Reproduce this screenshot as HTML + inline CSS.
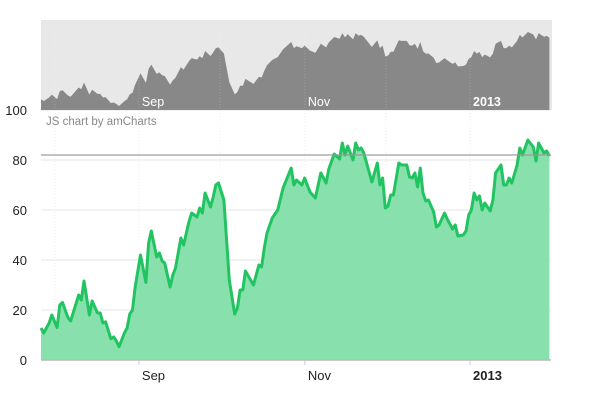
<!DOCTYPE html>
<html><head><meta charset="utf-8"><style>
html,body{margin:0;padding:0;background:#fff;width:592px;height:400px;overflow:hidden}
svg{display:block;font-family:"Liberation Sans","DejaVu Sans",sans-serif}
</style></head><body>
<svg id="chart" width="592" height="400" viewBox="0 0 592 400" xmlns="http://www.w3.org/2000/svg">
<rect x="41" y="20" width="511" height="90" fill="#e8e8e8"/>
<g id="grid"></g>
<g id="scroll"></g>
<g id="series"></g>
<g id="axes"></g>
<text x="46" y="125" font-size="11.5" fill="#888">JS chart by amCharts</text>
</svg>
<script>
const days=[0,1,3,4,6,7,8,10,11,12,14,15,16,18,19,21,22,23,24,26,27,28,29,31,32,33,34,35,37,39,40,41,43,44,45,46,48,49,50,52,53,55,56,58,59,60,61,63,64,65,66,68,69,70,72,73,74,75,76,79,81,82,83,84,86,88,90,93,94,95,97,98,100,102,104,106,107,109,111,112,113,114,116,117,118,119,120,123,125,126,127,128,129,130,131,133,134,136,137,138,139,140,141,142,143,144,146,147,148,150,151,153,154,155,157,158,159,160,161,162,163,164,165,167,168,169,171,172,173,174,175,177,178,179,181,183,184,185,187,188,189];
const values=[12.8,10.8,14.8,18,13,22,23,17,15.6,19,26,24,31.6,18,23.6,18.8,18.8,14.8,15.3,8.5,9.2,7.7,5.3,10.8,12.8,18.4,20,29,42,31,46.8,51.6,41.2,42.8,39.6,38.8,29.2,34,36.8,48.8,46,55.2,58.8,57.2,60.8,58.8,66.8,61.2,65.2,70,70.8,64,48,32,18.4,20.8,28,28,35.6,30,38,37.2,44.8,50.8,56.8,60,68.8,76.8,70,72,70,72.8,67.2,64.8,74.8,70.8,76.4,82.4,80.4,86.8,82,85.6,80,86.8,84,84.8,82.8,71.2,78.8,70,72.8,60.8,61.6,66,66,78.8,78,78,73.2,72.8,74.8,69.2,76.8,66.8,63.6,64,59.2,53.2,54,58.8,56.4,52.4,54,49.6,50,51.6,58,60,66.8,64,65.6,60,62.8,59.6,64,74.8,78,70,70,72.8,70.8,78,84.8,82,88,85.2,79.6,86.8,82.8,83.6,81.6];
const yTicks=[0,20,40,60,80,100];
const gridDays=[5.2,36.4,66.5,98.1,128.3,159.5];
const gridLabels=["","Sep","","Nov","","2013"];
const guideValue=82;

const NS="http://www.w3.org/2000/svg";
const X0=41,PX=2.69,Y0=360,PY=2.5;
const xs=d=>X0+d*PX;
const ys=v=>Y0-v*PY;
const vmin=Math.min(...values),vmax=Math.max(...values);
const ss=v=>106-(v-vmin)/(vmax-vmin)*74;
function mk(tag,attrs,parent){const e=document.createElementNS(NS,tag);for(const k in attrs)e.setAttribute(k,attrs[k]);parent.appendChild(e);return e;}
const grid=document.getElementById('grid'),axes=document.getElementById('axes'),series=document.getElementById('series'),scroll=document.getElementById('scroll');

yTicks.forEach(t=>{
  const g=mk('line',{x1:41,x2:551,y1:ys(t),y2:ys(t),stroke:'#ededed','stroke-width':1.5},grid);
  
  
  const l=mk('text',{x:27,y:ys(t)+5,'text-anchor':'end','font-size':13,fill:'#222'},axes);
  l.textContent=t;
  
  
});
gridDays.forEach((d,i)=>{
  const x=xs(d);
  const g=mk('line',{x1:x,x2:x,y1:110,y2:360,stroke:'#eeeeee','stroke-width':1,'stroke-dasharray':'1,2'},grid);
  
  
  if(gridLabels[i]){
    const t=mk('line',{x1:x,x2:x,y1:360,y2:365,stroke:'#ccc','stroke-width':1},axes);
    
    
    const l=mk('text',{x:x+3,y:380,'font-size':13,fill:'#222','font-weight':gridLabels[i]==='2013'?'bold':'normal'},axes);
    l.textContent=gridLabels[i];
    
    
    const s=mk('text',{x:x+3,y:106,'font-size':12.5,fill:'#fff','font-weight':gridLabels[i]==='2013'?'bold':'normal'},axes);
    s.textContent=gridLabels[i];
    
    
  }
});
let sp='M'+xs(days[0])+',110 ';
days.forEach((d,i)=>{sp+='L'+xs(d).toFixed(1)+','+ss(values[i]).toFixed(1)+' ';});
sp+='L'+xs(days[days.length-1])+',110 Z';
const sa=mk('path',{d:sp,fill:'#888'},scroll);


gridDays.forEach(d=>{const x=xs(d);const l=mk('line',{x1:x,x2:x,y1:20,y2:110,stroke:'#fff','stroke-opacity':0.2,'stroke-dasharray':'1,2'},scroll);

});
let lp='';
days.forEach((d,i)=>{lp+=(i?'L':'M')+xs(d).toFixed(1)+','+ys(values[i]).toFixed(1)+' ';});
const ap=lp+'L'+xs(days[days.length-1]).toFixed(1)+','+Y0+' L'+xs(days[0])+','+Y0+' Z';
const area=mk('path',{d:ap,fill:'#88e0ac'},series);


const line=mk('path',{d:lp,fill:'none',stroke:'#22c462','stroke-width':3,'stroke-linejoin':'round'},series);


const gd=mk('line',{x1:41,x2:551,y1:ys(guideValue),y2:ys(guideValue),stroke:'#999','stroke-width':1.5,'stroke-opacity':0.8},series);


const ax=mk('line',{x1:41,x2:551,y1:360,y2:360,stroke:'#bbb','stroke-width':1.5},axes);


</script>
</body></html>
